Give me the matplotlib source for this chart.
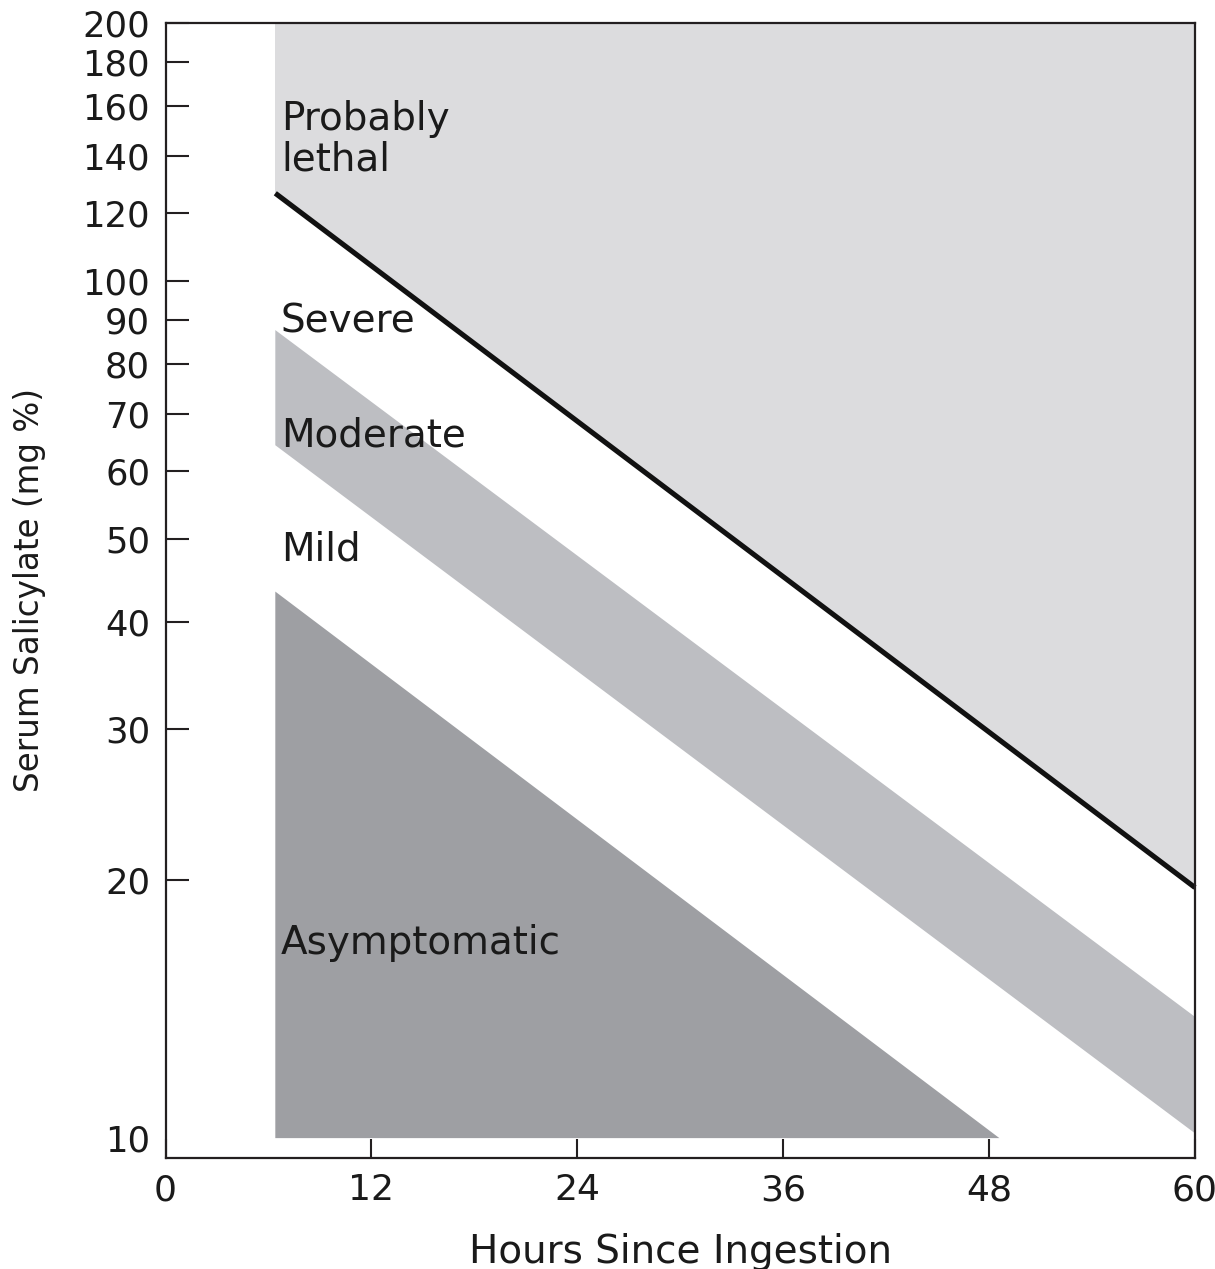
import matplotlib
matplotlib.use("Agg")
import matplotlib.pyplot as plt

plt.rcParams['font.family'] = ['DejaVu Sans']

# Data
x_start = 6.4            # hours where zones begin
x_end = 60.0
lethal_line_y = [126.5, 19.6]        # thick boundary line (start, end)
moderate_upper_y = [87.6, 13.85]
moderate_lower_y = [64.3, 10.13]
asym_top_y = 43.4
asym_end_x = 48.6
y_top = 200
y_floor = 10

yticks = [10, 20, 30, 40, 50, 60, 70, 80, 90, 100, 120, 140, 160, 180, 200]
xticks = [0, 12, 24, 36, 48, 60]

labels = [("Probably", 6.73, 150.0), ("lethal", 6.73, 134.5),
          ("Severe", 6.73, 87.1), ("Moderate", 6.73, 64.0),
          ("Mild", 6.73, 47.2), ("Asymptomatic", 6.73, 16.4)]

c_light = "#dcdcde"
c_mid = "#bdbec2"
c_dark = "#9e9fa3"
ink = "#231f20"

fig = plt.figure(figsize=(12.15, 12.69), dpi=100)
ax = fig.add_axes([165.5 / 1215, 111 / 1269, (1195 - 165.5) / 1215, (1158 - 22.7) / 1269])
ax.set_yscale('log')
ax.set_xlim(0, 60)
ax.set_ylim(9.48, 200)

# Probably lethal zone
ax.fill([x_start, x_start, x_end, x_end],
        [lethal_line_y[0], y_top, y_top, lethal_line_y[1]],
        color=c_light, lw=0, zorder=1)
# Moderate band
ax.fill([x_start, x_end, x_end, x_start],
        [moderate_upper_y[0], moderate_upper_y[1], moderate_lower_y[1], moderate_lower_y[0]],
        color=c_mid, lw=0, zorder=1)
# Asymptomatic zone
ax.fill([x_start, asym_end_x, x_start],
        [asym_top_y, y_floor, y_floor],
        color=c_dark, lw=0, zorder=1)
# Boundary line
ax.plot([x_start, x_end], lethal_line_y, color="#111111", lw=3.7,
        solid_capstyle='butt', zorder=3, clip_on=False)

for txt, xx, yy in labels:
    ax.text(xx, yy, txt, fontsize=28, color="#1a1a1a", va='baseline', ha='left', zorder=4)

ax.set_yticks(yticks)
ax.set_yticklabels([str(v) for v in yticks])
ax.yaxis.set_minor_locator(matplotlib.ticker.NullLocator())
ax.set_xticks(xticks)
ax.set_xticklabels([str(v) for v in xticks])

ax.tick_params(axis='y', direction='in', length=16.5, width=1.5, color=ink,
               labelsize=25.5, pad=11, right=False, labelcolor="#1a1a1a")
ax.tick_params(axis='x', direction='in', length=13.7, width=1.5, color=ink,
               labelsize=26, pad=11, top=False, labelcolor="#1a1a1a")
for t in ax.yaxis.get_major_ticks():
    if abs(t.get_loc() - 10) < 1e-6:
        t.tick1line.set_visible(False)

for s in ax.spines.values():
    s.set_linewidth(1.6)
    s.set_color(ink)
    s.set_zorder(5)

ax.set_xlabel("Hours Since Ingestion", fontsize=28, color="#1a1a1a")
ax.set_ylabel("Serum Salicylate (mg %)", fontsize=23.5, color="#1a1a1a")
ax.xaxis.set_label_coords(0.5, -0.066)
ax.yaxis.set_label_coords(-0.116, 0.5)

fig.savefig("out.png", dpi=100)
